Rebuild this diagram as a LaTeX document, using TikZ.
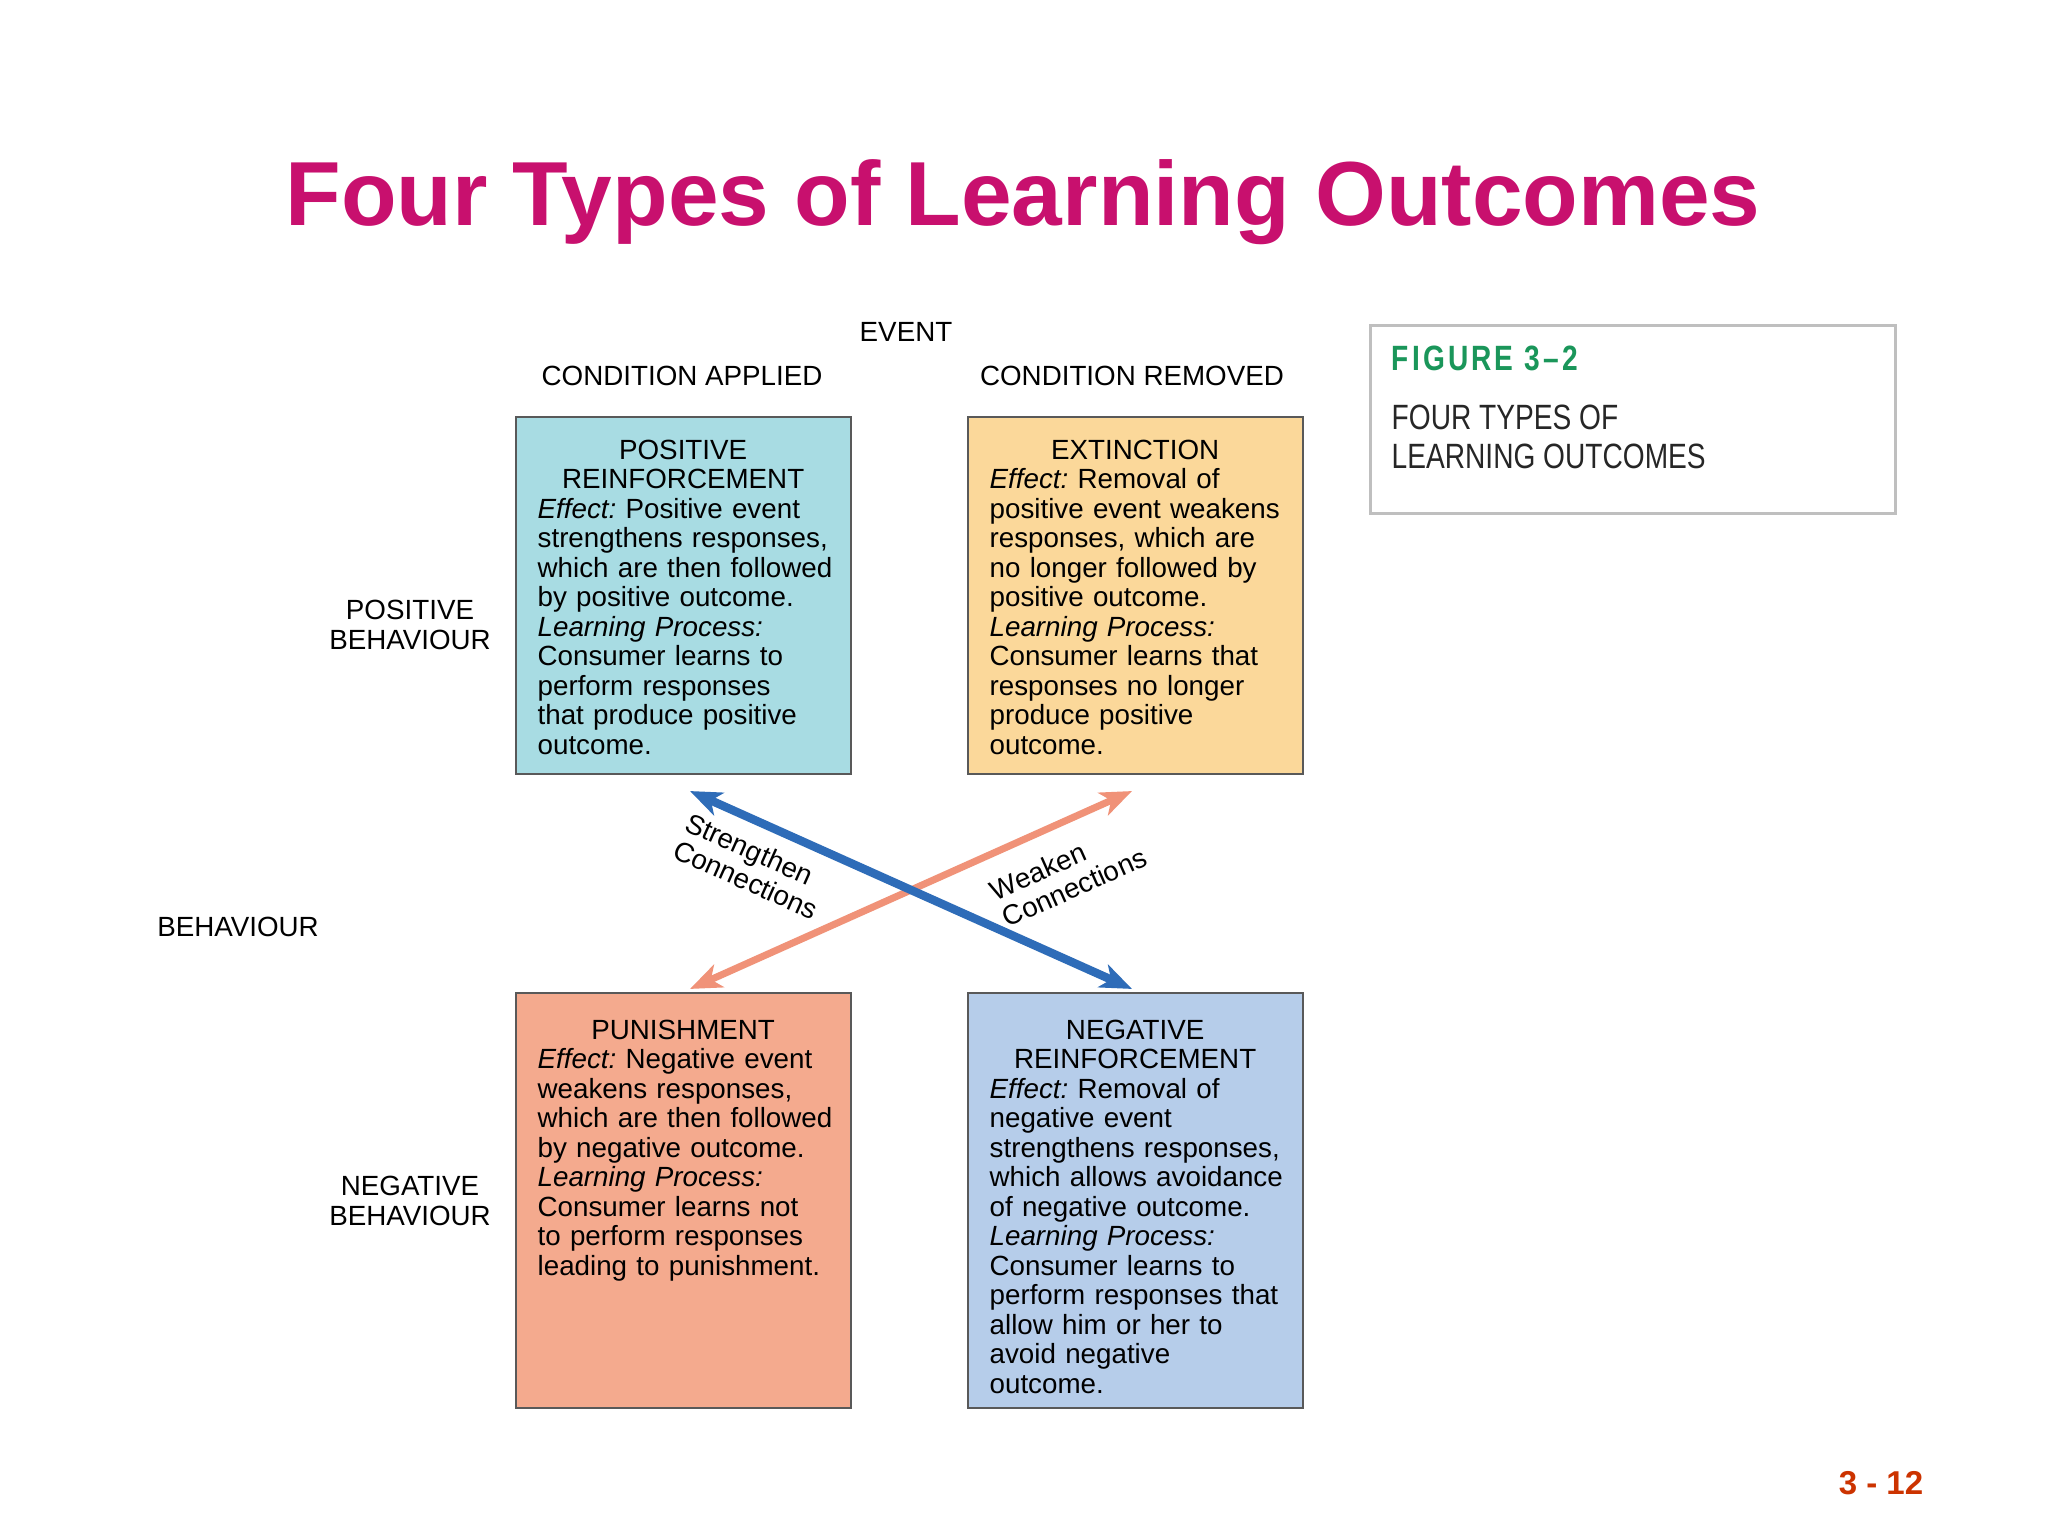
\documentclass[tikz,border=0pt]{standalone}
\usepackage{fontspec}
\setmainfont{Liberation Sans}
\newfontfamily\condfont[FakeStretch=0.8]{Liberation Sans}
\usetikzlibrary{positioning,arrows.meta}
\definecolor{titlered}{RGB}{200,16,110}
\definecolor{pagered}{RGB}{204,51,0}
\definecolor{figgreen}{RGB}{26,150,90}
\definecolor{prcyan}{RGB}{168,220,227}
\definecolor{exyellow}{RGB}{251,216,154}
\definecolor{pusalmon}{RGB}{244,170,142}
\definecolor{nrblue}{RGB}{182,205,234}
\definecolor{strongblue}{RGB}{46,108,184}
\definecolor{weakorange}{RGB}{240,146,120}
\newcommand{\quadhead}[1]{\makebox[2.91cm][c]{#1}}
\frenchspacing

\begin{document}
\begin{tikzpicture}
  \tikzstyle{smalltext}=[font=\fontsize{7.9}{8.4}\selectfont]
  \tikzstyle{quad}=[rectangle, draw=black!65, line width=0.6pt,
minimum width=3.35cm, inner sep=0pt]
  \tikzstyle{quadtext}=[smalltext, text width=3.1cm, align=left, inner sep=0pt]
  \tikzstyle{axislabel}=[smalltext, align=center, inner sep=0pt]
  \tikzstyle{linklabel}=[smalltext, align=left, inner sep=0pt, text=black, sloped]
  \tikzstyle{link}=[line width=2.4pt, {Stealth[length=9pt,width=7pt,inset=2.5pt]}-{Stealth[length=9pt,width=7pt,inset=2.5pt]}]
  \useasboundingbox (0,0) rectangle (20.48,-15.36);
  \fill[white] (0,0) rectangle (20.48,-15.36);

  % title and page number
  \node[font=\fontsize{25.9}{30}\selectfont\bfseries, text=titlered] (title) at (10.23,-2.02) {Four Types of Learning Outcomes};
  \node[font=\fontsize{9.4}{11}\selectfont\bfseries, text=pagered] (page) at (18.81,-14.83) {3 - 12};

  % figure caption box
  \node[rectangle, draw=black!25, line width=0.8pt, minimum width=5.25cm, minimum height=1.88cm,
anchor=north west] (fig) at (13.69,-3.24) {};
  \node[font=\condfont\fontsize{10}{12}\selectfont\bfseries\addfontfeature{LetterSpace=9},
text=figgreen, anchor=west, inner sep=0pt] (fignum) at (13.91,-3.58) {FIGURE 3\textendash 2};
  \node[font=\condfont\fontsize{10}{11.1}\selectfont, text=black!85, align=left, anchor=north west,
inner sep=0pt] (figname) at (13.91,-4.04) {FOUR TYPES OF\\LEARNING OUTCOMES};

  % axis labels
  \node[axislabel] (event) at (9.06,-3.32) {EVENT};
  \node[axislabel] (applied) at (6.82,-3.76) {CONDITION APPLIED};
  \node[axislabel] (removed) at (11.32,-3.76) {CONDITION REMOVED};
  \node[axislabel] (posbeh) at (4.10,-6.25) {POSITIVE\\BEHAVIOUR};
  \node[axislabel] (beh) at (2.38,-9.27) {BEHAVIOUR};
  \node[axislabel] (negbeh) at (4.10,-12.01) {NEGATIVE\\BEHAVIOUR};

  % the four outcomes
  \node[quad, fill=prcyan, minimum height=3.57cm] (PR) at (6.835,-5.955) {};
  \node[quad, fill=exyellow, minimum height=3.57cm] (EX) at (11.355,-5.955) {};
  \node[quad, fill=pusalmon, minimum height=4.15cm] (PU) at (6.835,-12.005) {};
  \node[quad, fill=nrblue, minimum height=4.15cm] (NR) at (11.355,-12.005) {};

  \node[quadtext, anchor=north west, below right=0.23cm and 0.22cm of PR.north west] (PR_t)
{\quadhead{POSITIVE}\\\quadhead{REINFORCEMENT}\\
\textit{Effect:} Positive event\\strengthens responses,\\which are then followed\\by positive outcome.\\
\textit{Learning Process:}\\Consumer learns to\\perform responses\\that produce positive\\outcome.};
  \node[quadtext, anchor=north west, below right=0.23cm and 0.22cm of EX.north west] (EX_t)
{\quadhead{EXTINCTION}\\
\textit{Effect:} Removal of\\positive event weakens\\responses, which are\\no longer followed by\\positive outcome.\\
\textit{Learning Process:}\\Consumer learns that\\responses no longer\\produce positive\\outcome.};
  \node[quadtext, anchor=north west, below right=0.27cm and 0.22cm of PU.north west] (PU_t)
{\quadhead{PUNISHMENT}\\
\textit{Effect:} Negative event\\weakens responses,\\which are then followed\\by negative outcome.\\
\textit{Learning Process:}\\Consumer learns not\\to perform responses\\leading to punishment.};
  \node[quadtext, anchor=north west, below right=0.27cm and 0.22cm of NR.north west] (NR_t)
{\quadhead{NEGATIVE}\\\quadhead{REINFORCEMENT}\\
\textit{Effect:} Removal of\\negative event\\strengthens responses,\\which allows avoidance\\of negative outcome.\\
\textit{Learning Process:}\\Consumer learns to\\perform responses that\\allow him or her to\\avoid negative\\outcome.};

  % connections
  \draw[link, weakorange, line width=2pt] ([xshift=0.065cm,yshift=0.03cm]PU.north) --
node[linklabel, pos=0.81, below=6pt] (weak) {Weaken\\Connections}
([xshift=-0.035cm,yshift=-0.16cm]EX.south);
  \draw[link, strongblue] ([xshift=0.065cm,yshift=-0.16cm]PR.south) --
node[linklabel, pos=0.18, below=4pt] (strong) {Strengthen\\Connections}
([xshift=-0.035cm,yshift=0.03cm]NR.north);
\end{tikzpicture}
\end{document}
